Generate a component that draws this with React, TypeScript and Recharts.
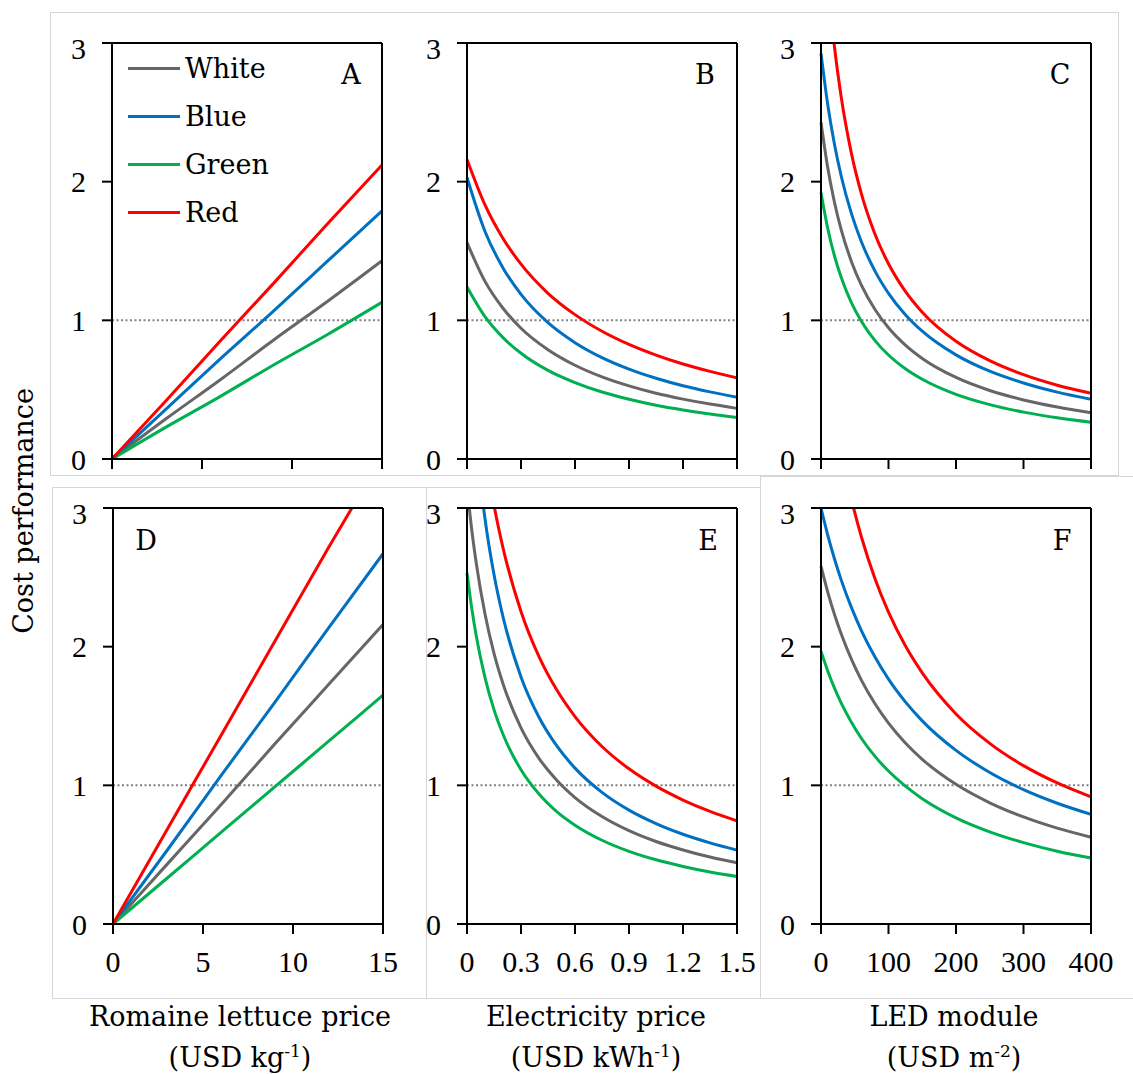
import React from "react";
import { LineChart, Line, XAxis, YAxis, ReferenceLine } from "recharts";

const FONT = '"DejaVu Serif", "Liberation Serif", serif';
const TICK_FONT = '"Liberation Serif", "DejaVu Serif", serif';

// series meta
const SERIES = [
  { key: "white", name: "White", color: "#666666" },
  { key: "blue", name: "Blue", color: "#0070C0" },
  { key: "green", name: "Green", color: "#00B050" },
  { key: "red", name: "Red", color: "#FF0000" },
];

// A / D : romaine lettuce price
const lettuceX = [0, 3, 6, 9, 12, 15];
const aWhite = [0, 0.29, 0.57, 0.86, 1.14, 1.43];
const aBlue = [0, 0.36, 0.72, 1.07, 1.43, 1.79];
const aGreen = [0, 0.23, 0.45, 0.68, 0.9, 1.13];
const aRed = [0, 0.42, 0.85, 1.27, 1.7, 2.12];
const dWhite = [0, 0.43, 0.86, 1.3, 1.73, 2.16];
const dBlue = [0, 0.53, 1.07, 1.6, 2.14, 2.67];
const dGreen = [0, 0.33, 0.66, 0.99, 1.32, 1.65];
const dRed = [0, 0.68, 1.36, 2.04, 2.72, 3.38];
const lettuceTicks = [0, 5, 10, 15];

// B : electricity price
const elecXB = [0, 0.1, 0.2, 0.3, 0.45, 0.6, 0.75, 0.9, 1.05, 1.2, 1.35, 1.5];
const bWhite = [1.56, 1.281, 1.087, 0.943, 0.788, 0.676, 0.592, 0.527, 0.474, 0.432, 0.396, 0.365];
const bBlue = [2.03, 1.641, 1.378, 1.187, 0.983, 0.839, 0.731, 0.648, 0.582, 0.528, 0.484, 0.446];
const bGreen = [1.24, 1.026, 0.875, 0.763, 0.639, 0.551, 0.483, 0.431, 0.388, 0.354, 0.325, 0.3];
const bRed = [2.16, 1.832, 1.59, 1.405, 1.195, 1.041, 0.921, 0.826, 0.749, 0.685, 0.632, 0.585];

// E : electricity price
const elecXE = [0, 0.025, 0.05, 0.1, 0.15, 0.2, 0.3, 0.4, 0.5, 0.6, 0.75, 0.9, 1.05, 1.2, 1.35, 1.5];
const eWhite = [3.147, 2.856, 2.614, 2.235, 1.952, 1.733, 1.415, 1.195, 1.035, 0.912, 0.775, 0.673, 0.595, 0.534, 0.483, 0.442];
const eBlue = [4.299, 3.846, 3.48, 2.923, 2.52, 2.215, 1.782, 1.491, 1.282, 1.124, 0.949, 0.821, 0.724, 0.647, 0.585, 0.533];
const eGreen = [2.533, 2.289, 2.088, 1.777, 1.546, 1.368, 1.112, 0.937, 0.809, 0.713, 0.604, 0.524, 0.463, 0.415, 0.375, 0.343];
const eRed = [4.575, 4.213, 3.905, 3.406, 3.02, 2.713, 2.254, 1.928, 1.685, 1.496, 1.28, 1.119, 0.994, 0.894, 0.812, 0.744];
const elecTicks = [0, 0.3, 0.6, 0.9, 1.2, 1.5];

// C / F : LED module price
const ledX = [0, 10, 20, 30, 45, 60, 80, 100, 125, 150, 200, 250, 300, 350, 400];
const cWhite = [2.429, 2.1, 1.85, 1.652, 1.425, 1.252, 1.078, 0.946, 0.821, 0.725, 0.588, 0.494, 0.426, 0.375, 0.334];
const cBlue = [2.925, 2.555, 2.268, 2.039, 1.771, 1.565, 1.355, 1.195, 1.041, 0.922, 0.751, 0.633, 0.548, 0.482, 0.431];
const cGreen = [1.922, 1.662, 1.464, 1.309, 1.128, 0.992, 0.854, 0.75, 0.651, 0.575, 0.466, 0.392, 0.338, 0.297, 0.265];
const cRed = [4.112, 3.45, 2.971, 2.609, 2.206, 1.91, 1.621, 1.408, 1.209, 1.059, 0.849, 0.709, 0.608, 0.532, 0.474];
const fWhite = [2.581, 2.394, 2.232, 2.091, 1.91, 1.757, 1.588, 1.449, 1.306, 1.188, 1.007, 0.874, 0.772, 0.691, 0.626];
const fBlue = [3.0, 2.804, 2.632, 2.48, 2.283, 2.114, 1.925, 1.766, 1.602, 1.465, 1.252, 1.093, 0.969, 0.871, 0.791];
const fGreen = [1.968, 1.825, 1.701, 1.593, 1.455, 1.338, 1.209, 1.103, 0.994, 0.904, 0.766, 0.665, 0.587, 0.525, 0.476];
const fRed = [4.361, 3.986, 3.671, 3.402, 3.065, 2.789, 2.49, 2.249, 2.006, 1.811, 1.515, 1.303, 1.142, 1.017, 0.917];
const ledTicks = [0, 100, 200, 300, 400];

const yTicks = [0, 1, 2, 3];

const rows = (xs: number[], w: number[], b: number[], g: number[], r: number[]) =>
  xs.map((x, i) => ({ x, white: w[i], blue: b[i], green: g[i], red: r[i] }));

const PW = 270;
const PH = 416;
const YW = 60;
const MT = 12;
const MR = 36;
const XH = 70;

type PanelProps = {
  left: number;
  top: number;
  data: any[];
  ticks: number[];
  showLabels: boolean;
  letter: string;
  letterX: number;
  letterY: number;
};

const Panel = ({ left, top, data, ticks, showLabels, letter, letterX, letterY }: PanelProps) => {
  const xMax = ticks[ticks.length - 1];
  const tickStyle = { fontFamily: TICK_FONT, fontSize: 30, fill: "#000" };
  return (
    <>
      <div style={{ position: "absolute", left: left - YW, top: top - MT }}>
        <LineChart
          width={YW + PW + MR}
          height={MT + PH + XH}
          data={data}
          margin={{ top: MT, right: MR, left: 0, bottom: 0 }}
        >
          <XAxis
            type="number"
            dataKey="x"
            domain={[0, xMax]}
            ticks={ticks}
            height={XH}
            tickSize={10}
            tickMargin={17}
            tick={tickStyle}
            tickFormatter={(v) => (showLabels ? String(v) : "")}
            axisLine={{ stroke: "#000", strokeWidth: 2 }}
            tickLine={{ stroke: "#000", strokeWidth: 2 }}
          />
          <YAxis
            type="number"
            domain={[0, 3]}
            ticks={yTicks}
            allowDataOverflow
            width={YW}
            tickSize={10}
            tickMargin={16}
            tick={tickStyle}
            axisLine={{ stroke: "#000", strokeWidth: 2 }}
            tickLine={{ stroke: "#000", strokeWidth: 2 }}
          />
          <ReferenceLine y={1} stroke="#808080" strokeWidth={2} strokeDasharray="2 2.5" />
          {SERIES.map((s) => (
            <Line
              key={s.key}
              type="monotone"
              dataKey={s.key}
              stroke={s.color}
              strokeWidth={3}
              dot={false}
              isAnimationActive={false}
            />
          ))}
          <ReferenceLine y={3} stroke="#000" strokeWidth={2} />
          <ReferenceLine x={xMax} stroke="#000" strokeWidth={2} />
        </LineChart>
      </div>
      <div
        style={{
          position: "absolute",
          left: letterX - 20,
          top: letterY - 18,
          width: 40,
          textAlign: "center",
          fontFamily: FONT,
          fontSize: 27,
          lineHeight: "36px",
        }}
      >
        {letter}
      </div>
    </>
  );
};

const boxStyle = (l: number, t: number, w: number, h: number): React.CSSProperties => ({
  position: "absolute",
  left: l,
  top: t,
  width: w,
  height: h,
  border: "1px solid #d6d6d6",
  boxSizing: "border-box",
});

const titleStyle = (cx: number, cy: number): React.CSSProperties => ({
  position: "absolute",
  left: cx - 180,
  top: cy - 18,
  width: 360,
  textAlign: "center",
  fontFamily: FONT,
  fontSize: 27,
  lineHeight: "36px",
  whiteSpace: "nowrap",
});

const App = () => {
  return (
    <div style={{ position: "absolute", left: 0, top: 0, width: 1133, height: 1074, background: "#fff" }}>
      <div style={boxStyle(50, 12, 1069, 464)} />
      <div style={boxStyle(52, 487, 375, 512)} />
      <div style={boxStyle(426, 487, 335, 512)} />
      <div style={boxStyle(760, 476, 380, 523)} />

      <Panel left={112} top={43} data={rows(lettuceX, aWhite, aBlue, aGreen, aRed)} ticks={lettuceTicks} showLabels={false} letter="A" letterX={351} letterY={75} />
      <Panel left={467} top={43} data={rows(elecXB, bWhite, bBlue, bGreen, bRed)} ticks={elecTicks} showLabels={false} letter="B" letterX={705} letterY={75} />
      <Panel left={821} top={43} data={rows(ledX, cWhite, cBlue, cGreen, cRed)} ticks={ledTicks} showLabels={false} letter="C" letterX={1060} letterY={75} />
      <Panel left={113} top={508} data={rows(lettuceX, dWhite, dBlue, dGreen, dRed)} ticks={lettuceTicks} showLabels letter="D" letterX={146} letterY={541} />
      <Panel left={467} top={508} data={rows(elecXE, eWhite, eBlue, eGreen, eRed)} ticks={elecTicks} showLabels letter="E" letterX={708} letterY={541} />
      <Panel left={821} top={508} data={rows(ledX, fWhite, fBlue, fGreen, fRed)} ticks={ledTicks} showLabels letter="F" letterX={1062} letterY={541} />

      {/* legend in panel A */}
      <div style={{ position: "absolute", left: 128, top: 44 }}>
        {SERIES.map((s) => (
          <div key={s.key} style={{ display: "flex", alignItems: "center", height: 48 }}>
            <div style={{ width: 52, height: 3, background: s.color }} />
            <span style={{ marginLeft: 5, fontFamily: FONT, fontSize: 27 }}>{s.name}</span>
          </div>
        ))}
      </div>

      <div
        style={{
          position: "absolute",
          left: 24 - 150,
          top: 511 - 18,
          width: 300,
          textAlign: "center",
          fontFamily: FONT,
          fontSize: 27,
          lineHeight: "36px",
          transform: "rotate(-90deg)",
        }}
      >
        Cost performance
      </div>

      <div style={titleStyle(240, 1017)}>Romaine lettuce price</div>
      <div style={titleStyle(240, 1051)}>
        (USD kg<sup style={{ fontSize: 17 }}>-1</sup>)
      </div>
      <div style={titleStyle(596, 1017)}>Electricity price</div>
      <div style={titleStyle(596, 1051)}>
        (USD kWh<sup style={{ fontSize: 17 }}>-1</sup>)
      </div>
      <div style={titleStyle(954, 1017)}>LED module</div>
      <div style={titleStyle(954, 1051)}>
        (USD m<sup style={{ fontSize: 17 }}>-2</sup>)
      </div>
    </div>
  );
};

export default App;
